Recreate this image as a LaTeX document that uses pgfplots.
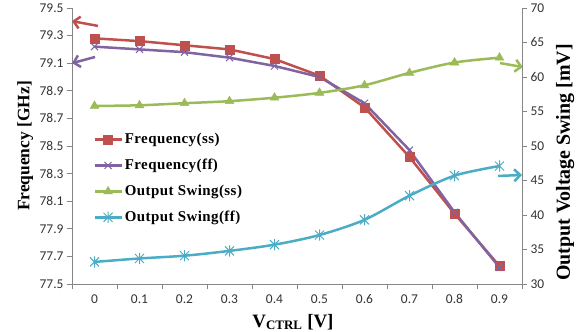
\documentclass[border=0pt]{standalone}
\usepackage{pgfplots}
\pgfplotsset{compat=1.18}
\usetikzlibrary{arrows.meta}
\usepackage{fontspec}
\setmainfont{Liberation Serif}
\newfontfamily\carlito{Carlito}
\newfontfamily\legfont[LetterSpace=3]{Liberation Serif}
\definecolor{cred}{HTML}{C0504D}
\definecolor{cpurple}{HTML}{8064A2}
\definecolor{cgreen}{HTML}{9BBB59}
\definecolor{cblue}{HTML}{4BACC6}
\definecolor{caxis}{HTML}{868686}
\pgfdeclareplotmark{xstar}{%
  \pgfpathmoveto{\pgfpoint{-\pgfplotmarksize}{-\pgfplotmarksize}}%
  \pgfpathlineto{\pgfpoint{\pgfplotmarksize}{\pgfplotmarksize}}%
  \pgfpathmoveto{\pgfpoint{-\pgfplotmarksize}{\pgfplotmarksize}}%
  \pgfpathlineto{\pgfpoint{\pgfplotmarksize}{-\pgfplotmarksize}}%
  \pgfpathmoveto{\pgfpoint{0pt}{-1.25\pgfplotmarksize}}%
  \pgfpathlineto{\pgfpoint{0pt}{1.25\pgfplotmarksize}}%
  \pgfusepathqstroke}
\pgfplotsset{
  common/.style={
    scale only axis, width=450bp, height=276bp,
    xmin=-0.5, xmax=9.5,
    tick align=outside,
    axis line style={draw=caxis, line width=0.8bp, -},
    every tick/.style={draw=caxis, line width=0.8bp},
    major tick length=5bp,
    ticklabel style={font=\carlito\fontsize{13.5}{13.5}\selectfont, color=black!80},
    /pgf/number format/assume math mode=true,
    clip=false,
  },
  legimg/.style={legend image code/.code={\draw[mark repeat=2,mark phase=2] plot coordinates {(0bp,0bp) (13.5bp,0bp) (27bp,0bp)};}},
}
\begin{document}
\begin{tikzpicture}
\path[use as bounding box] (-72bp,-48bp) rectangle (513bp,284bp);
\begin{axis}[common,
  ymin=77.5, ymax=79.5,
  axis y line*=left, axis x line*=bottom,
  ytick={77.5,77.7,77.9,78.1,78.3,78.5,78.7,78.9,79.1,79.3,79.5},
  yticklabel style={/pgf/number format/.cd, fixed, fixed zerofill, precision=1},
  xtick={-0.5,0.5,1.5,2.5,3.5,4.5,5.5,6.5,7.5,8.5,9.5}, xticklabels={},
  extra x ticks={0,1,2,3,4,5,6,7,8,9},
  extra x tick labels={0,0.1,0.2,0.3,0.4,0.5,0.6,0.7,0.8,0.9},
  extra x tick style={grid=none, major tick length=0pt, xticklabel style={yshift=-7bp}},
  every axis y label/.style={at={(axis description cs:-0.104,0.5)}, rotate=90, anchor=center},
  ylabel={\fontsize{17.5}{17.5}\selectfont\bfseries Frequency [GHz]},
  every axis x label/.style={at={(axis description cs:0.491,-0.138)}, anchor=center},
  xlabel={\fontsize{19}{19}\selectfont\bfseries V\textsubscript{\fontsize{13}{13}\selectfont CTRL} [V]},
  legend style={at={(axis description cs:0.047,0.553)}, anchor=north west, draw=none, fill=none,
    inner sep=0pt, row sep=10bp, font=\legfont\bfseries\fontsize{15}{15}\selectfont,
    nodes={inner sep=2bp}},
  legend cell align=left,
  legimg,
]
\addplot[cred, line width=2.5bp, mark=square*, mark size=4.5bp, mark options={solid, line width=0.5bp}]
  coordinates {(0,79.28) (1,79.26) (2,79.23) (3,79.20) (4,79.13) (5,79.01) (6,78.78) (7,78.42) (8,78.01) (9,77.63)};
\addlegendentry{Frequency(ss)}
\addplot[cpurple, line width=2.5bp, mark=x, mark size=5bp, mark options={solid, line width=1bp}]
  coordinates {(0,79.22) (1,79.20) (2,79.18) (3,79.14) (4,79.08) (5,79.00) (6,78.81) (7,78.47) (8,78.02) (9,77.62)};
\addlegendentry{Frequency(ff)}
\addlegendimage{cgreen, line width=2.5bp, mark=triangle*, mark size=5bp, mark options={solid, line width=0.5bp}}
\addlegendentry{Output Swing(ss)}
\addlegendimage{cblue, line width=2.5bp, mark=xstar, mark size=4.5bp, mark options={solid, line width=1bp}}
\addlegendentry{Output Swing(ff)}
\draw[cred, line width=2.5bp, -{Straight Barb[length=6bp,width=12bp]}] (axis cs:0.078,79.37) -- (axis cs:-0.5,79.405);
\draw[cpurple, line width=2.5bp, -{Straight Barb[length=6bp,width=12bp]}] (axis cs:0.011,79.145) -- (axis cs:-0.5,79.10);
\draw[cgreen, line width=2.5bp, -{Straight Barb[length=6bp,width=12bp]}] (axis cs:9.011,79.101) -- (axis cs:9.52,79.072);
\draw[cblue, line width=2.5bp, -{Straight Barb[length=6bp,width=12bp]}] (axis cs:8.967,78.283) -- (axis cs:9.5,78.29);
\end{axis}
\begin{axis}[common,
  ymin=30, ymax=70,
  axis y line*=right, axis x line=none,
  ytick={30,35,40,45,50,55,60,65,70},
  every axis y label/.style={at={(axis description cs:1.096,0.44)}, rotate=90, anchor=center},
  ylabel={\fontsize{20}{20}\selectfont\bfseries Output Voltage Swing [mV]},
]
\addplot[cgreen, line width=2.5bp, smooth, mark=triangle*, mark size=5bp, mark options={solid, line width=0.5bp}]
  coordinates {(0,55.8) (1,55.9) (2,56.2) (3,56.5) (4,57.0) (5,57.7) (6,58.8) (7,60.6) (8,62.1) (9,62.8)};
\addplot[cblue, line width=2.5bp, smooth, mark=xstar, mark size=4.5bp, mark options={solid, line width=1bp}]
  coordinates {(0,33.2) (1,33.7) (2,34.1) (3,34.8) (4,35.7) (5,37.1) (6,39.3) (7,42.8) (8,45.7) (9,47.1)};
\end{axis}
\end{tikzpicture}
\end{document}
